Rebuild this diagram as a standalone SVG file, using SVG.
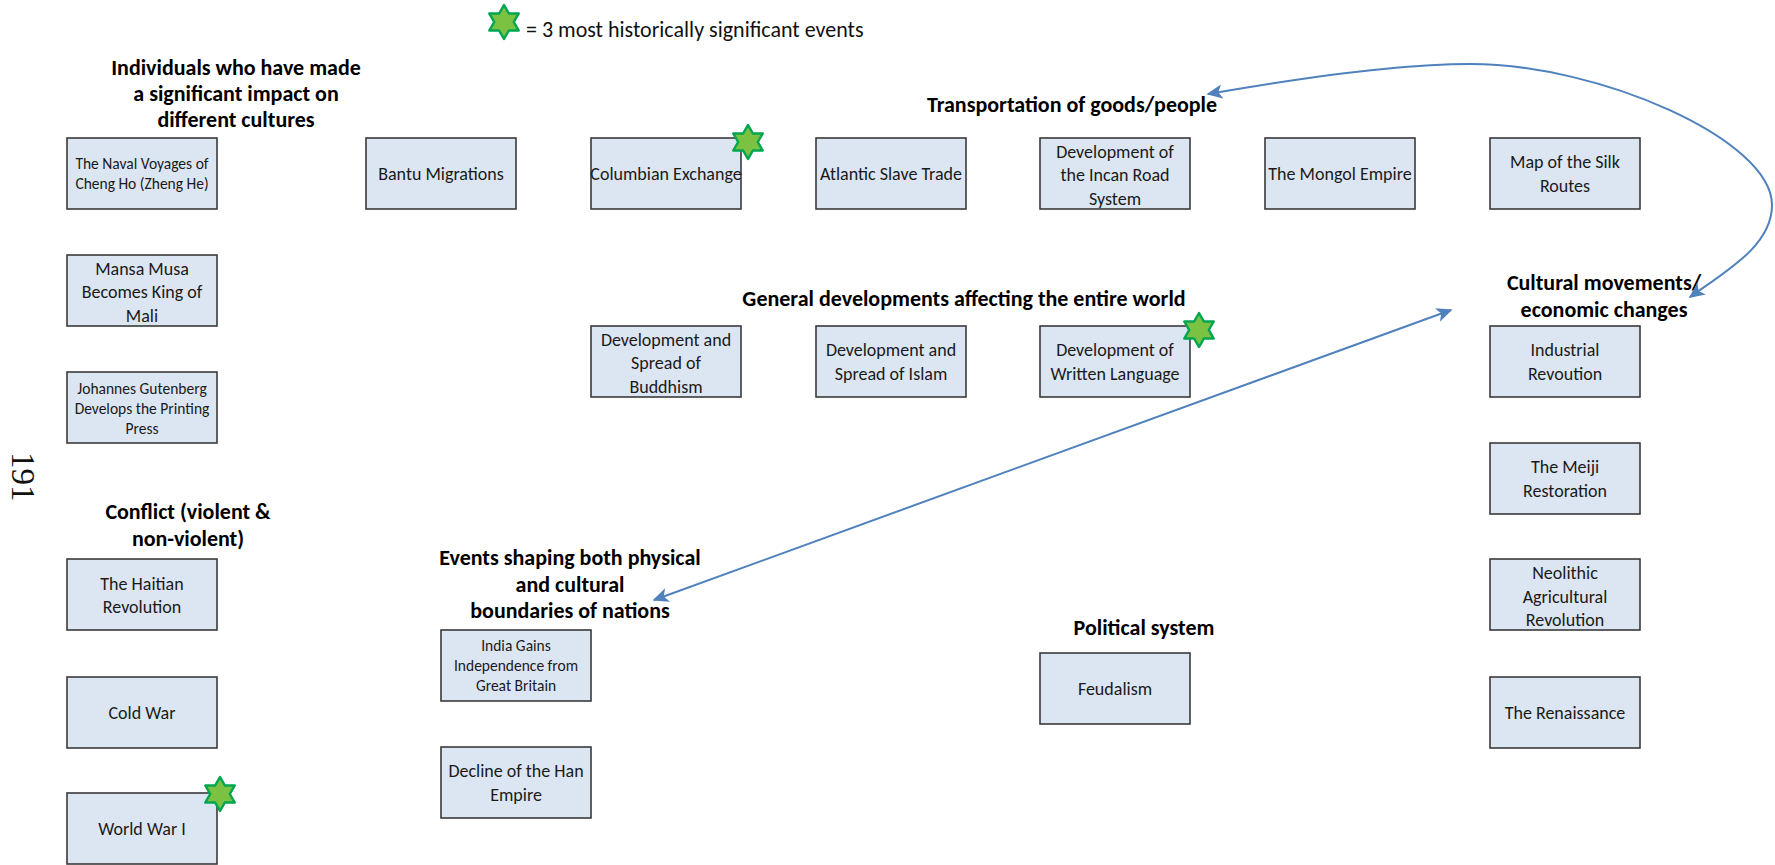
<svg xmlns="http://www.w3.org/2000/svg" width="1775" height="865" viewBox="0 0 1775 865">
  <style>
    .box { fill: #dce6f2; stroke: #3a3a3a; stroke-width: 1.6; }
    .t { font-family: Carlito, "Liberation Sans Narrow", "Liberation Sans", sans-serif; font-size: 18px; fill: #1a1a1a; text-anchor: middle; }
    .ts { font-size: 15.5px; }
    .h { font-family: Carlito, "Liberation Sans Narrow", "Liberation Sans", sans-serif; font-size: 22px; font-weight: bold; fill: #000; text-anchor: middle; }
    .legend { font-family: Carlito, "Liberation Sans Narrow", "Liberation Sans", sans-serif; font-size: 22px; fill: #111; }
    .link { fill: none; stroke: #4f81bd; stroke-width: 2; }
    .star { fill: #7cc242; stroke: #00a651; stroke-width: 2.5; stroke-linejoin: round; }
  </style>
  <defs>
    <marker id="arrow" viewBox="0 0 10 10" refX="9" refY="5" markerWidth="8" markerHeight="8" orient="auto-start-reverse" markerUnits="strokeWidth">
      <path d="M0,0.5 L10,5 L0,9.5 L2.5,5 Z" fill="#4f81bd"/>
    </marker>
    <!-- six-pointed star, centred on the origin -->
    <polygon id="hexstar" points="0,-17 4.9,-8.5 14.7,-8.5 9.8,0 14.7,8.5 4.9,8.5 0,17 -4.9,8.5 -14.7,8.5 -9.8,0 -14.7,-8.5 -4.9,-8.5"/>
  </defs>

  <rect width="1775" height="865" fill="#ffffff"/>

  <!-- page number -->
  <text transform="translate(12,452) rotate(90)" font-family="'Liberation Serif', serif" font-size="33" fill="#111">191</text>

  <!-- legend -->
  <g id="legend">
    <use href="#hexstar" class="star" x="504" y="22"/>
    <text class="legend" x="526" y="37">= 3 most historically significant events</text>
  </g>

  <!-- category headings -->
  <g id="heading-individuals">
    <text class="h" x="236" y="75">Individuals who have made</text>
    <text class="h" x="236" y="101">a significant impact on</text>
    <text class="h" x="236" y="127">different cultures</text>
  </g>
  <g id="heading-transport"><text class="h" x="1072" y="112">Transportation of goods/people</text></g>
  <g id="heading-general"><text class="h" x="964" y="306">General developments affecting the entire world</text></g>
  <g id="heading-cultural">
    <text class="h" x="1604" y="290">Cultural movements/</text>
    <text class="h" x="1604" y="317">economic changes</text>
  </g>
  <g id="heading-conflict">
    <text class="h" x="188" y="519">Conflict (violent &amp;</text>
    <text class="h" x="188" y="546">non-violent)</text>
  </g>
  <g id="heading-boundaries">
    <text class="h" x="570" y="565">Events shaping both physical</text>
    <text class="h" x="570" y="592">and cultural</text>
    <text class="h" x="570" y="618">boundaries of nations</text>
  </g>
  <g id="heading-political"><text class="h" x="1144" y="635">Political system</text></g>

  <!-- connectors -->
  <g id="connectors">
    <path class="link" d="M1208,94 C1300,78 1400,64 1470,64 C1600,64 1772,140 1772,205 C1772,245 1728,270 1690,297" marker-start="url(#arrow)" marker-end="url(#arrow)"/>
    <path class="link" d="M1451,310 L654,600" marker-start="url(#arrow)" marker-end="url(#arrow)"/>
  </g>

  <!-- individuals -->
  <g id="naval-voyages">
    <rect class="box" x="67" y="138" width="150" height="71"/>
    <text class="t ts" x="142" y="169">The Naval Voyages of</text>
    <text class="t ts" x="142" y="189">Cheng Ho (Zheng He)</text>
  </g>
  <g id="mansa-musa">
    <rect class="box" x="67" y="255" width="150" height="71"/>
    <text class="t" x="142" y="275">Mansa Musa</text>
    <text class="t" x="142" y="298">Becomes King of</text>
    <text class="t" x="142" y="322">Mali</text>
  </g>
  <g id="gutenberg">
    <rect class="box" x="67" y="372" width="150" height="71"/>
    <text class="t ts" x="142" y="394">Johannes Gutenberg</text>
    <text class="t ts" x="142" y="414">Develops the Printing</text>
    <text class="t ts" x="142" y="434">Press</text>
  </g>

  <!-- transportation -->
  <g id="bantu">
    <rect class="box" x="366" y="138" width="150" height="71"/>
    <text class="t" x="441" y="180">Bantu Migrations</text>
  </g>
  <g id="columbian-exchange">
    <rect class="box" x="591" y="138" width="150" height="71"/>
    <text class="t" x="666" y="180">Columbian Exchange</text>
    <use href="#hexstar" class="star" x="748" y="142"/>
  </g>
  <g id="atlantic-slave-trade">
    <rect class="box" x="816" y="138" width="150" height="71"/>
    <text class="t" x="891" y="180">Atlantic Slave Trade</text>
  </g>
  <g id="incan-road">
    <rect class="box" x="1040" y="138" width="150" height="71"/>
    <text class="t" x="1115" y="158">Development of</text>
    <text class="t" x="1115" y="181">the Incan Road</text>
    <text class="t" x="1115" y="205">System</text>
  </g>
  <g id="mongol-empire">
    <rect class="box" x="1265" y="138" width="150" height="71"/>
    <text class="t" x="1340" y="180">The Mongol Empire</text>
  </g>
  <g id="silk-routes">
    <rect class="box" x="1490" y="138" width="150" height="71"/>
    <text class="t" x="1565" y="168">Map of the Silk</text>
    <text class="t" x="1565" y="192">Routes</text>
  </g>

  <!-- general developments -->
  <g id="buddhism">
    <rect class="box" x="591" y="326" width="150" height="71"/>
    <text class="t" x="666" y="346">Development and</text>
    <text class="t" x="666" y="369">Spread of</text>
    <text class="t" x="666" y="393">Buddhism</text>
  </g>
  <g id="islam">
    <rect class="box" x="816" y="326" width="150" height="71"/>
    <text class="t" x="891" y="356">Development and</text>
    <text class="t" x="891" y="380">Spread of Islam</text>
  </g>
  <g id="written-language">
    <rect class="box" x="1040" y="326" width="150" height="71"/>
    <text class="t" x="1115" y="356">Development of</text>
    <text class="t" x="1115" y="380">Written Language</text>
    <use href="#hexstar" class="star" x="1199" y="330"/>
  </g>

  <!-- cultural movements / economic changes -->
  <g id="industrial-revolution">
    <rect class="box" x="1490" y="326" width="150" height="71"/>
    <text class="t" x="1565" y="356">Industrial</text>
    <text class="t" x="1565" y="380">Revoution</text>
  </g>
  <g id="meiji-restoration">
    <rect class="box" x="1490" y="443" width="150" height="71"/>
    <text class="t" x="1565" y="473">The Meiji</text>
    <text class="t" x="1565" y="497">Restoration</text>
  </g>
  <g id="neolithic-revolution">
    <rect class="box" x="1490" y="559" width="150" height="71"/>
    <text class="t" x="1565" y="579">Neolithic</text>
    <text class="t" x="1565" y="603">Agricultural</text>
    <text class="t" x="1565" y="626">Revolution</text>
  </g>
  <g id="renaissance">
    <rect class="box" x="1490" y="677" width="150" height="71"/>
    <text class="t" x="1565" y="719">The Renaissance</text>
  </g>

  <!-- conflict -->
  <g id="haitian-revolution">
    <rect class="box" x="67" y="559" width="150" height="71"/>
    <text class="t" x="142" y="590">The Haitian</text>
    <text class="t" x="142" y="613">Revolution</text>
  </g>
  <g id="cold-war">
    <rect class="box" x="67" y="677" width="150" height="71"/>
    <text class="t" x="142" y="719">Cold War</text>
  </g>
  <g id="world-war-1">
    <rect class="box" x="67" y="793" width="150" height="71"/>
    <text class="t" x="142" y="835">World War I</text>
    <use href="#hexstar" class="star" x="220" y="794"/>
  </g>

  <!-- boundaries of nations -->
  <g id="india-independence">
    <rect class="box" x="441" y="630" width="150" height="71"/>
    <text class="t ts" x="516" y="651">India Gains</text>
    <text class="t ts" x="516" y="671">Independence from</text>
    <text class="t ts" x="516" y="691">Great Britain</text>
  </g>
  <g id="han-decline">
    <rect class="box" x="441" y="747" width="150" height="71"/>
    <text class="t" x="516" y="777">Decline of the Han</text>
    <text class="t" x="516" y="801">Empire</text>
  </g>

  <!-- political system -->
  <g id="feudalism">
    <rect class="box" x="1040" y="653" width="150" height="71"/>
    <text class="t" x="1115" y="695">Feudalism</text>
  </g>
</svg>
